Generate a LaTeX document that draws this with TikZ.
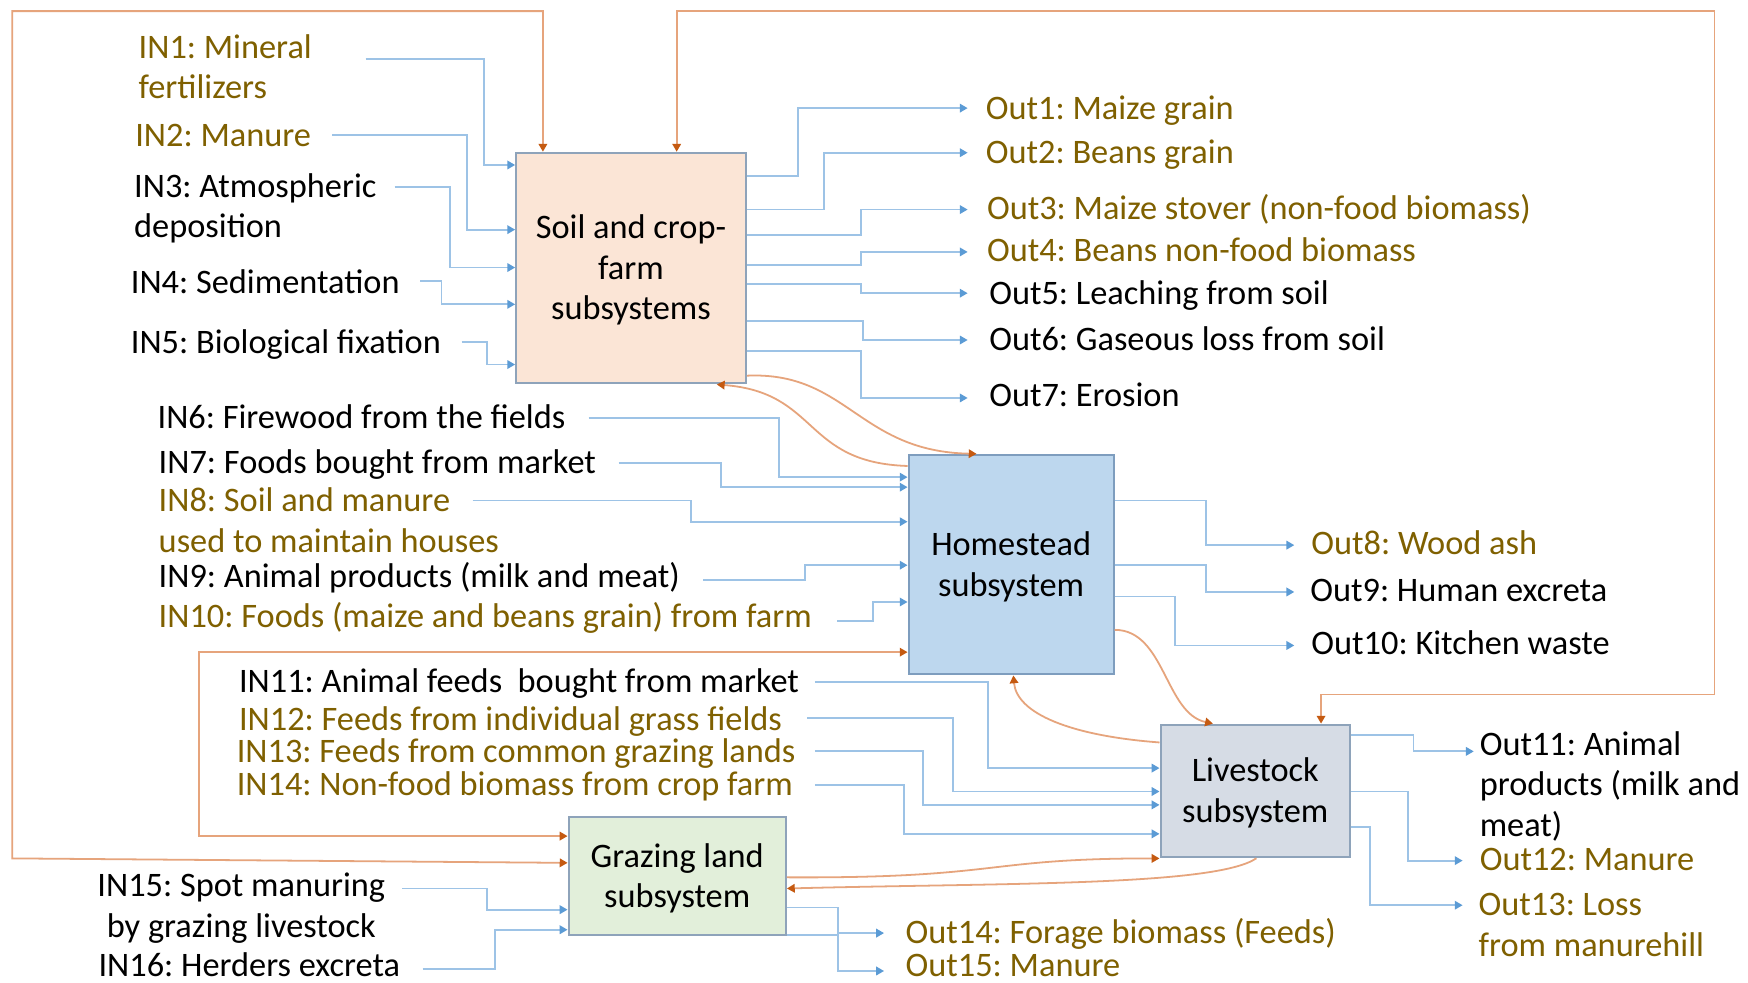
\documentclass[tikz,border=0pt]{standalone}
\usepackage{fontspec}
\setmainfont{Carlito}
\usetikzlibrary{arrows.meta}
\definecolor{olivec}{HTML}{7F6000}
\definecolor{soilf}{HTML}{FBE5D6}
\definecolor{homef}{HTML}{BDD7EE}
\definecolor{livef}{HTML}{D6DCE5}
\definecolor{grazf}{HTML}{E2EFDA}
\definecolor{boxb}{HTML}{8EA3BA}
\definecolor{homeb}{HTML}{7E9DBE}
\definecolor{flowc}{HTML}{9DC3E6}
\definecolor{tipb}{HTML}{5B9BD5}
\definecolor{oline}{HTML}{E6A47C}
\definecolor{tipo}{HTML}{C55A11}
\newcommand\lblfont{\fontsize{15.4}{18.25}\selectfont\frenchspacing}
\newcommand\topstrut{\rule{0pt}{15.5pt}}
\begin{document}
\begin{tikzpicture}[x=0.5pt,y=-0.5pt,
  lbl/.style={anchor=west, inner sep=0pt, align=left, font=\lblfont, text=black},
  oltext/.style={text=olivec},
  sbox/.style={draw=boxb, line width=0.9pt, inner sep=0pt, align=center, font=\lblfont},
  bflow/.style={draw=flowc, line width=0.8pt, -{Triangle[length=3.5pt,width=3.8pt,color=tipb]}},
  oarrow/.style={draw=oline, line width=0.8pt, -{Triangle[length=3.5pt,width=3.8pt,color=tipo]}},
  obiarrow/.style={draw=oline, line width=0.8pt, {Triangle[length=3.5pt,width=3.8pt,color=tipo]}-{Triangle[length=3.5pt,width=3.8pt,color=tipo]}}
]
\fill[white] (0,0) rectangle (1568,881);
\useasboundingbox (0,0) rectangle (1568,881);

% boxes
\node[sbox, fill=soilf, minimum width=103pt, minimum height=103.5pt] (soil) at (566,240.5) {\topstrut Soil and crop-\\\strut farm\\\strut subsystems};
\node[sbox, fill=homef, draw=homeb, minimum width=92pt, minimum height=98.5pt] (home) at (907,506.5) {\topstrut Homestead\\\strut subsystem};
\node[sbox, fill=livef, minimum width=85pt, minimum height=59.5pt] (live) at (1126,709.5) {\topstrut Livestock\\\strut subsystem};
\node[sbox, fill=grazf, minimum width=97.5pt, minimum height=53pt] (graz) at (607.5,786) {\topstrut Grazing land\\\strut subsystem};

% input labels
\node[lbl,oltext] (in1) at (124,63.2) {\strut IN1: Mineral\\\strut fertilizers};
\node[lbl,oltext] (in2) at (121,123.7) {\strut IN2: Manure};
\node[lbl] (in3) at (120,187.7) {\strut IN3: Atmospheric\\\strut deposition};
\node[lbl] (in4) at (117,255.7) {\strut IN4: Sedimentation};
\node[lbl] (in5) at (117,309.7) {\strut IN5: Biological fixation};
\node[lbl] (in6) at (141,376.7) {\strut IN6: Firewood from the fields};
\node[lbl] (in7) at (142,417.7) {\strut IN7: Foods bought from market};
\node[lbl,oltext] (in8) at (142,469.7) {\strut IN8: Soil and manure\\\strut used to maintain houses};
\node[lbl] (in9) at (142,519.7) {\strut IN9: Animal products (milk and meat)};
\node[lbl,oltext] (in10) at (142,555.7) {\strut IN10: Foods (maize and beans grain) from farm};
\node[lbl] (in11) at (214,613.7) {\strut IN11: Animal feeds\ \ bought from market};
\node[lbl,oltext] (in12) at (214,647.7) {\strut IN12: Feeds from individual grass fields};
\node[lbl,oltext] (in13) at (212,676.7) {\strut IN13: Feeds from common grazing lands};
\node[lbl,oltext] (in14) at (212,706.7) {\strut IN14: Non-food biomass from crop farm};
\node[lbl,align=center] (in15) at (87,815.2) {\strut IN15: Spot manuring\\\strut by grazing livestock};
\node[lbl,anchor=base west] (in16) at (88,876) {IN16: Herders excreta};

% output labels
\node[lbl,oltext] (o1) at (884,99.7) {\strut Out1: Maize grain};
\node[lbl,oltext] (o2) at (884,139.7) {\strut Out2: Beans grain};
\node[lbl,oltext] (o3) at (885,189.7) {\strut Out3: Maize stover (non-food biomass)};
\node[lbl,oltext] (o4) at (885,227.7) {\strut Out4: Beans non-food biomass};
\node[lbl] (o5) at (887,265.7) {\strut Out5: Leaching from soil};
\node[lbl] (o6) at (887,306.7) {\strut Out6: Gaseous loss from soil};
\node[lbl] (o7) at (887,357.7) {\strut Out7: Erosion};
\node[lbl,oltext] (o8) at (1176,489.7) {\strut Out8: Wood ash};
\node[lbl] (o9) at (1175,532.7) {\strut Out9: Human excreta};
\node[lbl] (o10) at (1176,579.7) {\strut Out10: Kitchen waste};
\node[lbl] (o11) at (1327,706.7) {\strut Out11: Animal\\\strut products (milk and\\\strut meat)};
\node[lbl,oltext] (o12) at (1327,773.7) {\strut Out12: Manure};
\node[lbl,oltext] (o13) at (1326,832.2) {\strut Out13: Loss\\\strut from manurehill};
\node[lbl,oltext] (o14) at (812,838.7) {\strut Out14: Forage biomass (Feeds)};
\node[lbl,oltext,anchor=base west] (o15) at (812,876) {Out15: Manure};

% free ends of input connectors
\coordinate (s1) at (328,53);
\coordinate (s2) at (298,121);
\coordinate (s3) at (354,168);
\coordinate (s4) at (377,252);
\coordinate (s5) at (414,307);
\coordinate (s6) at (528,375);
\coordinate (s7) at (555,415);
\coordinate (s8) at (424,449);
\coordinate (s9) at (631,520);
\coordinate (s10) at (751,557);
\coordinate (s11) at (731,612);
\coordinate (s12) at (724,644);
\coordinate (s13) at (731,674);
\coordinate (s14) at (731,704);
\coordinate (s15) at (361,797);
\coordinate (s16) at (379,869);
% free ends of output connectors
\coordinate (t1) at (868,97);
\coordinate (t2) at (868,137);
\coordinate (t3) at (868,188);
\coordinate (t4) at (868,226);
\coordinate (t5) at (868,263);
\coordinate (t6) at (868,305);
\coordinate (t7) at (868,357);
\coordinate (t8) at (1161,489);
\coordinate (t9) at (1161,531);
\coordinate (t10) at (1161,579);
\coordinate (t11) at (1322,674);
\coordinate (t12) at (1312,772);
\coordinate (t13) at (1312,812);
\coordinate (t14) at (793,837);
\coordinate (t15) at (793,871);

% soil inputs
\draw[bflow] (s1) -| (434,148) -- (soil.west |- 0,148);
\draw[bflow] (s2) -| (419,206) -- (soil.west |- 0,206);
\draw[bflow] (s3) -| (404,240) -- (soil.west |- 0,240);
\draw[bflow] (s4) -| (396,273) -- (soil.west |- 0,273);
\draw[bflow] (s5) -| (437,327) -- (soil.west |- 0,327);
% homestead inputs
\draw[bflow] (s6) -| (699,428) -- (home.west |- 0,428);
\draw[bflow] (s7) -| (647,437) -- (home.west |- 0,437);
\draw[bflow] (s8) -| (620,468) -- (home.west |- 0,468);
\draw[bflow] (s9) -| (722,507) -- (home.west |- 0,507);
\draw[bflow] (s10) -| (783,540) -- (home.west |- 0,540);
% livestock inputs
\draw[bflow] (s11) -| (886,689) -- (live.west |- 0,689);
\draw[bflow] (s12) -| (855,710) -- (live.west |- 0,710);
\draw[bflow] (s13) -| (828,722) -- (live.west |- 0,722);
\draw[bflow] (s14) -| (811,748) -- (live.west |- 0,748);
% grazing inputs
\draw[bflow] (s15) -| (437,816) -- (graz.west |- 0,816);
\draw[bflow] (s16) -| (444,834) -- (graz.west |- 0,834);

% soil outputs
\draw[bflow] (soil.east |- 0,158) -| (716,97) -- (t1);
\draw[bflow] (soil.east |- 0,188) -| (739,137) -- (t2);
\draw[bflow] (soil.east |- 0,211) -| (772,188) -- (t3);
\draw[bflow] (soil.east |- 0,238) -| (772,226) -- (t4);
\draw[bflow] (soil.east |- 0,255) -| (772,263) -- (t5);
\draw[bflow] (soil.east |- 0,288) -| (774,305) -- (t6);
\draw[bflow] (soil.east |- 0,315) -| (772,357) -- (t7);
% homestead outputs
\draw[bflow] (home.east |- 0,449) -| (1082,489) -- (t8);
\draw[bflow] (home.east |- 0,507) -| (1082,531) -- (t9);
\draw[bflow] (home.east |- 0,535) -| (1054,579) -- (t10);
% livestock outputs
\draw[bflow] (live.east |- 0,659) -| (1268,674) -- (t11);
\draw[bflow] (live.east |- 0,710) -| (1263,772) -- (t12);
\draw[bflow] (live.east |- 0,742) -| (1229,812) -- (t13);
% grazing outputs
\draw[bflow] (graz.east |- 0,814) -| (752,837) -- (t14);
\draw[bflow] (graz.east |- 0,839) -| (752,871) -- (t15);

% orange links
\draw[obiarrow] (graz.west |- 0,774) -- (11,770) |- (487,10) -- (soil.north -| 487,0);
\draw[obiarrow] (soil.north -| 607,0) -- (607,10) -| (1538,623) -| (live.north -| 1185,0);
\draw[obiarrow] (home.west |- 0,585) -| (178.5,750) -- (graz.west |- 0,750);
\draw[oarrow] (soil.east |- 0,337) .. controls (760,333) and (770,405) .. (home.north -| 876,0);
\draw[oarrow] (home.west |- 0,418) .. controls (720,415) and (735,352) .. (soil.south -| 643,0);
\draw[oarrow] (home.east |- 0,565) .. controls (1045,565) and (1045,640) .. (live.north -| 1088,0);
\draw[oarrow] (live.west |- 0,666) .. controls (960,660) and (912,640) .. (home.south -| 909,0);
\draw[oarrow] (graz.east |- 0,787) .. controls (900,788) and (880,770) .. (live.west |- 0,770);
\draw[oarrow] (live.south -| 1127,0) .. controls (1090,795) and (900,792) .. (graz.east |- 0,797);
\end{tikzpicture}
\end{document}
